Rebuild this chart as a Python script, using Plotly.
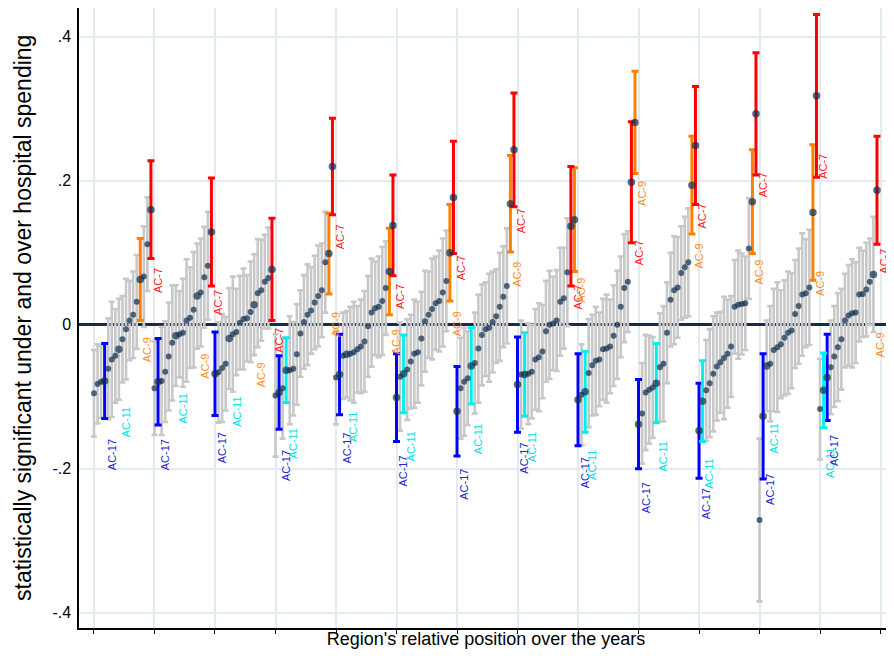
import plotly.graph_objects as go

N_PER_GROUP = 17
N_GROUPS = 13

# Estimated coefficient of each region, sorted within each year (13 years x 17 regions)
values = [
    [-0.095, -0.082, -0.079, -0.078, -0.061, -0.048, -0.043, -0.034, -0.020, -0.006, 0.006, 0.014, 0.032, 0.063, 0.067, 0.112, 0.160],
    [-0.088, -0.079, -0.078, -0.065, -0.044, -0.025, -0.015, -0.013, -0.011, 0.006, 0.010, 0.021, 0.040, 0.045, 0.066, 0.082, 0.129],
    [-0.068, -0.066, -0.060, -0.054, -0.019, -0.013, -0.010, 0.003, 0.008, 0.009, 0.018, 0.028, 0.044, 0.048, 0.060, 0.065, 0.077],
    [-0.098, -0.094, -0.088, -0.063, -0.063, -0.061, -0.041, -0.012, 0.004, 0.014, 0.020, 0.031, 0.040, 0.048, 0.087, 0.099, 0.220],
    [-0.073, -0.069, -0.043, -0.041, -0.040, -0.038, -0.034, -0.030, -0.023, -0.002, 0.017, 0.023, 0.025, 0.033, 0.051, 0.074, 0.138],
    [-0.101, -0.072, -0.068, -0.062, -0.051, -0.040, -0.038, -0.019, 0.005, 0.014, 0.022, 0.030, 0.033, 0.045, 0.061, 0.100, 0.177],
    [-0.120, -0.088, -0.079, -0.074, -0.057, -0.053, -0.033, -0.014, -0.006, -0.004, 0.004, 0.012, 0.025, 0.039, 0.054, 0.168, 0.243],
    [-0.083, -0.069, -0.069, -0.068, -0.065, -0.048, -0.045, -0.037, -0.009, 0.000, 0.002, 0.006, 0.032, 0.037, 0.073, 0.137, 0.146],
    [-0.104, -0.097, -0.093, -0.067, -0.056, -0.050, -0.048, -0.034, -0.033, -0.030, -0.015, 0.000, 0.025, 0.051, 0.060, 0.198, 0.281],
    [-0.138, -0.123, -0.094, -0.090, -0.087, -0.081, -0.059, -0.054, -0.011, 0.035, 0.048, 0.052, 0.072, 0.080, 0.087, 0.194, 0.249],
    [-0.147, -0.106, -0.091, -0.081, -0.068, -0.058, -0.052, -0.046, -0.040, -0.030, 0.025, 0.028, 0.029, 0.030, 0.106, 0.171, 0.293],
    [-0.271, -0.127, -0.057, -0.054, -0.035, -0.031, -0.027, -0.018, -0.011, -0.008, 0.015, 0.026, 0.042, 0.044, 0.052, 0.156, 0.318],
    [-0.117, -0.091, -0.073, -0.059, -0.044, -0.031, -0.020, 0.006, 0.013, 0.016, 0.017, 0.042, 0.043, 0.049, 0.060, 0.070, 0.187],
]

# Half-width of each confidence interval
half_widths = [
    [0.060, 0.055, 0.050, 0.052, 0.070, 0.080, 0.065, 0.070, 0.060, 0.070, 0.055, 0.060, 0.065, 0.057, 0.070, 0.065, 0.068],
    [0.065, 0.060, 0.075, 0.070, 0.075, 0.080, 0.070, 0.060, 0.075, 0.085, 0.070, 0.080, 0.073, 0.075, 0.070, 0.075, 0.075],
    [0.058, 0.070, 0.075, 0.065, 0.070, 0.080, 0.060, 0.065, 0.070, 0.060, 0.070, 0.070, 0.075, 0.070, 0.065, 0.070, 0.071],
    [0.085, 0.051, 0.070, 0.045, 0.075, 0.065, 0.070, 0.060, 0.065, 0.070, 0.060, 0.065, 0.070, 0.065, 0.070, 0.056, 0.067],
    [0.065, 0.056, 0.060, 0.060, 0.065, 0.070, 0.060, 0.065, 0.070, 0.070, 0.075, 0.065, 0.070, 0.075, 0.065, 0.060, 0.070],
    [0.061, 0.075, 0.054, 0.070, 0.065, 0.075, 0.070, 0.065, 0.070, 0.060, 0.070, 0.065, 0.070, 0.075, 0.070, 0.067, 0.078],
    [0.062, 0.070, 0.075, 0.065, 0.053, 0.070, 0.075, 0.070, 0.065, 0.075, 0.070, 0.065, 0.075, 0.070, 0.080, 0.067, 0.079],
    [0.066, 0.075, 0.058, 0.070, 0.065, 0.070, 0.075, 0.065, 0.070, 0.075, 0.065, 0.070, 0.075, 0.070, 0.075, 0.083, 0.072],
    [0.064, 0.070, 0.056, 0.075, 0.070, 0.075, 0.065, 0.070, 0.075, 0.065, 0.070, 0.075, 0.070, 0.075, 0.070, 0.084, 0.071],
    [0.062, 0.070, 0.080, 0.075, 0.070, 0.055, 0.075, 0.080, 0.070, 0.065, 0.075, 0.070, 0.065, 0.070, 0.075, 0.068, 0.082],
    [0.066, 0.056, 0.070, 0.075, 0.080, 0.075, 0.070, 0.085, 0.075, 0.070, 0.065, 0.075, 0.070, 0.065, 0.070, 0.072, 0.085],
    [0.113, 0.087, 0.063, 0.080, 0.085, 0.090, 0.075, 0.080, 0.085, 0.080, 0.075, 0.080, 0.085, 0.075, 0.080, 0.094, 0.113],
    [0.070, 0.052, 0.060, 0.065, 0.070, 0.075, 0.070, 0.065, 0.070, 0.075, 0.070, 0.065, 0.060, 0.065, 0.060, 0.080, 0.075],
]

# Rank position (1..17) of the tracked regions in each year
pos_ac17 = [4, 2, 1, 2, 2, 1, 1, 1, 1, 1, 1, 2, 3]
pos_ac11 = [8, 7, 5, 4, 4, 3, 5, 3, 3, 6, 2, 3, 2]
pos_ac9 = [14, 13, 12, 16, 16, 16, 16, 17, 17, 16, 16, 16, 16]
pos_ac7 = [17, 17, 17, 17, 17, 17, 17, 16, 16, 17, 17, 17, 17]

regions = [
    ("AC-17", pos_ac17, "#0000ff", "#2424c8"),
    ("AC-11", pos_ac11, "#00f0f0", "#00e0e8"),
    ("AC-9", pos_ac9, "#ff8000", "#ff8c1a"),
    ("AC-7", pos_ac7, "#ff0000", "#ff1a1a"),
]

DOT = "#0e2d50"
GRAY = "#c8c8c8"
GRID = "#e3eaf0"
FONT = "Liberation Sans, Arial"

hl = {}
for name, plist, bc, lc in regions:
    for g in range(N_GROUPS):
        hl[(g, plist[g])] = (name, bc, lc)

gray_x, gray_y, gray_e = [], [], []
col = {name: ([], [], []) for name, _, _, _ in regions}
dot_x, dot_y, dot_s = [], [], []
annotations = []
for g in range(N_GROUPS):
    for p in range(1, N_PER_GROUP + 1):
        xi = g * N_PER_GROUP + p
        v = values[g][p - 1]
        e = half_widths[g][p - 1]
        dot_x.append(xi)
        dot_y.append(v)
        info = hl.get((g, p))
        sig = (v - e > 0) or (v + e < 0)
        if info and sig:
            col[info[0]][0].append(xi)
            col[info[0]][1].append(v)
            col[info[0]][2].append(e)
        else:
            gray_x.append(xi)
            gray_y.append(v)
            gray_e.append(e)
        dot_s.append(7.5 if info else 6)
        if info:
            annotations.append(dict(
                x=xi, y=v, xref="x", yref="y", text=info[0], showarrow=False,
                textangle=-90, font=dict(size=11, color=info[2], family=FONT),
                xanchor="center", yanchor="top", xshift=7, yshift=-56,
            ))

# y-axis title (placed as a rotated annotation to control its position)
annotations.append(dict(
    x=0, y=0.5, xref="paper", yref="paper",
    text="statistically significant under and over hospital spending",
    showarrow=False, textangle=-90, font=dict(size=23, color="#000000", family=FONT),
    xanchor="center", yanchor="middle", xshift=-56,
))

fig = go.Figure()
fig.add_trace(go.Scatter(
    x=gray_x, y=gray_y, mode="markers",
    marker=dict(size=1, color="rgba(0,0,0,0)"),
    error_y=dict(type="data", array=gray_e, symmetric=True, color=GRAY, thickness=2.6, width=3),
    hoverinfo="skip", showlegend=False,
))
for name, _, bc, _ in regions:
    xs, ys, es = col[name]
    fig.add_trace(go.Scatter(
        x=xs, y=ys, mode="markers",
        marker=dict(size=1, color="rgba(0,0,0,0)"),
        error_y=dict(type="data", array=es, symmetric=True, color=bc, thickness=3, width=3.5),
        hoverinfo="skip", showlegend=False,
    ))
fig.add_trace(go.Scatter(
    x=dot_x, y=dot_y, mode="markers",
    marker=dict(size=dot_s, color=DOT, line=dict(width=0)),
    showlegend=False,
))

tick_pos = [g * N_PER_GROUP + 1 for g in range(N_GROUPS + 1)]

# page body adds an 8px margin, so the figure is 886x652
fig.update_layout(
    width=886, height=652,
    margin=dict(l=71, r=1, t=0, b=32),
    paper_bgcolor="white", plot_bgcolor="white",
    font=dict(family=FONT, color="#000000"),
    annotations=annotations,
    showlegend=False,
)
fig.update_xaxes(
    range=[-3.21, 225.5], tickvals=tick_pos, showticklabels=False,
    ticks="outside", ticklen=4, tickcolor="#000000", tickwidth=1,
    showgrid=True, gridcolor=GRID, gridwidth=2,
    showline=True, linecolor="#000000", linewidth=1.5,
    zeroline=False,
    title=dict(text="Region's relative position over the years", font=dict(size=18), standoff=0),
    automargin=False,
)
fig.update_yaxes(
    range=[-0.421, 0.44],
    tickvals=[-0.4, -0.2, 0, 0.2, 0.4], ticktext=["-.4", "-.2", "0", ".2", ".4"],
    tickfont=dict(size=16), ticks="", ticklabelstandoff=3,
    showgrid=True, gridcolor=GRID, gridwidth=2,
    showline=True, linecolor="#000000", linewidth=1.5,
    zeroline=True, zerolinecolor="#1b2a4a", zerolinewidth=2.5,
    automargin=False,
)

fig.write_html("out.html")
